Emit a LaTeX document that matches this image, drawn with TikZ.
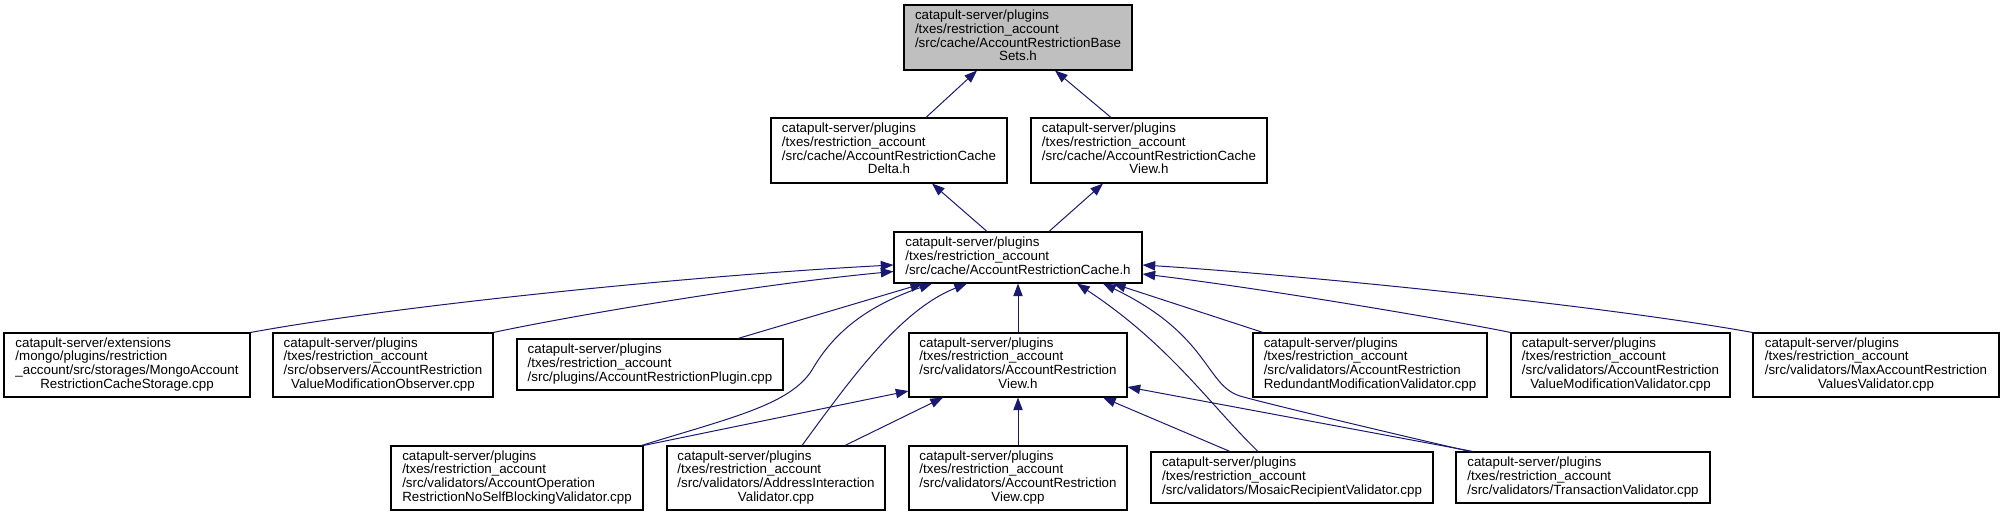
\documentclass[tikz,border=0pt]{standalone}
\usepackage{fontspec}
\setmainfont{Liberation Sans}
\usepackage{xcolor}
\usepackage{tikz}
\usetikzlibrary{arrows.meta, calc}
\definecolor{edgeblue}{RGB}{25, 25, 112}
\definecolor{basegrey}{RGB}{191, 191, 191}

\newcommand{\flabel}[1]{\begin{tabular}{@{}l@{}}#1\end{tabular}}
\newcommand{\lastc}[1]{\multicolumn{1}{@{}c@{}}{#1}}

\tikzset{
    file/.style 2 args={draw=black, line width=0.8pt, fill=white, inner sep=0pt,
        font={\fontsize{10}{10.2}\selectfont},
        minimum width=#1*0.75pt, minimum height=#2*0.75pt},
    dep/.style={draw=edgeblue, line width=0.75pt, -{Triangle[length=9.5pt, width=7pt]}}
}

\begin{document}
\begin{tikzpicture}[x=0.75pt, y=-0.75pt]
    \useasboundingbox (0,0) rectangle (2003,516);

    % Header
    \node[file={228}{65}, fill=basegrey] (base) at (1018,37.5)
        {\flabel{catapult-server/plugins\\/txes/restriction\_account\\/src/cache/AccountRestrictionBase\\\lastc{Sets.h}}};

    % Cache delta and view
    \node[file={236}{65}] (delta) at (889,150.5)
        {\flabel{catapult-server/plugins\\/txes/restriction\_account\\/src/cache/AccountRestrictionCache\\\lastc{Delta.h}}};
    \node[file={236}{65}] (cview) at (1149,150.5)
        {\flabel{catapult-server/plugins\\/txes/restriction\_account\\/src/cache/AccountRestrictionCache\\\lastc{View.h}}};

    % Cache
    \node[file={248}{51}] (cache) at (1018,257.5)
        {\flabel{catapult-server/plugins\\/txes/restriction\_account\\/src/cache/AccountRestrictionCache.h}};

    % Third row
    \node[file={246}{64}] (mongo) at (127,365)
        {\flabel{catapult-server/extensions\\/mongo/plugins/restriction\\\_account/src/storages/MongoAccount\\\lastc{RestrictionCacheStorage.cpp}}};
    \node[file={220}{64}] (observer) at (383,365)
        {\flabel{catapult-server/plugins\\/txes/restriction\_account\\/src/observers/AccountRestriction\\\lastc{ValueModificationObserver.cpp}}};
    \node[file={266}{51}] (plugin) at (650,364.5)
        {\flabel{catapult-server/plugins\\/txes/restriction\_account\\/src/plugins/AccountRestrictionPlugin.cpp}};
    \node[file={218}{64}] (vview) at (1018,365)
        {\flabel{catapult-server/plugins\\/txes/restriction\_account\\/src/validators/AccountRestriction\\\lastc{View.h}}};
    \node[file={234}{64}] (redundant) at (1370,365)
        {\flabel{catapult-server/plugins\\/txes/restriction\_account\\/src/validators/AccountRestriction\\\lastc{RedundantModificationValidator.cpp}}};
    \node[file={219}{64}] (valmod) at (1620.5,365)
        {\flabel{catapult-server/plugins\\/txes/restriction\_account\\/src/validators/AccountRestriction\\\lastc{ValueModificationValidator.cpp}}};
    \node[file={246}{64}] (maxval) at (1876,365)
        {\flabel{catapult-server/plugins\\/txes/restriction\_account\\/src/validators/MaxAccountRestriction\\\lastc{ValuesValidator.cpp}}};

    % Bottom row
    \node[file={252}{64}] (noself) at (517,478)
        {\flabel{catapult-server/plugins\\/txes/restriction\_account\\/src/validators/AccountOperation\\\lastc{RestrictionNoSelfBlockingValidator.cpp}}};
    \node[file={218}{64}] (addrint) at (776,478)
        {\flabel{catapult-server/plugins\\/txes/restriction\_account\\/src/validators/AddressInteraction\\\lastc{Validator.cpp}}};
    \node[file={218}{64}] (vcpp) at (1018,478)
        {\flabel{catapult-server/plugins\\/txes/restriction\_account\\/src/validators/AccountRestriction\\\lastc{View.cpp}}};
    \node[file={282}{51}] (mosaic) at (1292,477.5)
        {\flabel{catapult-server/plugins\\/txes/restriction\_account\\/src/validators/MosaicRecipientValidator.cpp}};
    \node[file={254}{51}] (txn) at (1583,477.5)
        {\flabel{catapult-server/plugins\\/txes/restriction\_account\\/src/validators/TransactionValidator.cpp}};

    % Upper edges
    \draw[dep] ($(delta.north)+(37,0)$) -- ($(base.south)+(-41,0)$);
    \draw[dep] ($(cview.north)+(-38,0)$) -- ($(base.south)+(37,0)$);
    \draw[dep] ($(cache.north)+(-31,0)$) -- ($(delta.south)+(43,0)$);
    \draw[dep] ($(cache.north)+(31,0)$) -- ($(cview.south)+(-46,0)$);

    % Edges into the cache
    \draw[dep] (mongo.north east) .. controls (400,305) and (700,275) .. ($(cache.west)+(0,7.5)$);
    \draw[dep] (observer.north east) .. controls (560,318) and (750,285) .. ($(cache.west)+(0,14)$);
    \draw[dep] ($(plugin.north)+(88,0)$) -- ($(cache.south)+(-95,0)$);
    \draw[dep] ($(noself.north east)+(-2,0)$) .. controls (730,418) and (790,405) .. (812,370)
        .. controls (835,330) and (870,305) .. ($(cache.south)+(-86,0)$);
    \draw[dep] ($(addrint.north)+(26,0)$) .. controls (850,380) and (900,310) .. ($(cache.south)+(-51,0)$);
    \draw[dep] (vview.north) -- (cache.south);
    \draw[dep] ($(mosaic.north)+(-34,0)$) .. controls (1210,405) and (1170,345) .. ($(cache.south)+(59,0)$);
    \draw[dep] ($(txn.north)+(-113,0)$) .. controls (1390,433) and (1260,402) .. (1240,396)
        .. controls (1205,385) and (1210,335) .. ($(cache.south)+(85,0)$);
    \draw[dep] ($(redundant.north)+(-107,0)$) -- ($(cache.south)+(95,0)$);
    \draw[dep] (valmod.north west) .. controls (1450,320) and (1260,288) .. ($(cache.east)+(0,16.5)$);
    \draw[dep] (maxval.north west) .. controls (1600,305) and (1300,275) .. ($(cache.east)+(0,7.5)$);

    % Edges into the validator view
    \draw[dep] (noself.north east) -- ($(vview.west)+(0,26)$);
    \draw[dep] ($(addrint.north)+(69,0)$) -- ($(vview.south)+(-75,0)$);
    \draw[dep] (vcpp.north) -- (vview.south);
    \draw[dep] ($(mosaic.north)+(-62,0)$) -- ($(vview.south)+(85,0)$);
    \draw[dep] ($(txn.north)+(-110,0)$) -- ($(vview.east)+(0,22)$);
\end{tikzpicture}
\end{document}
